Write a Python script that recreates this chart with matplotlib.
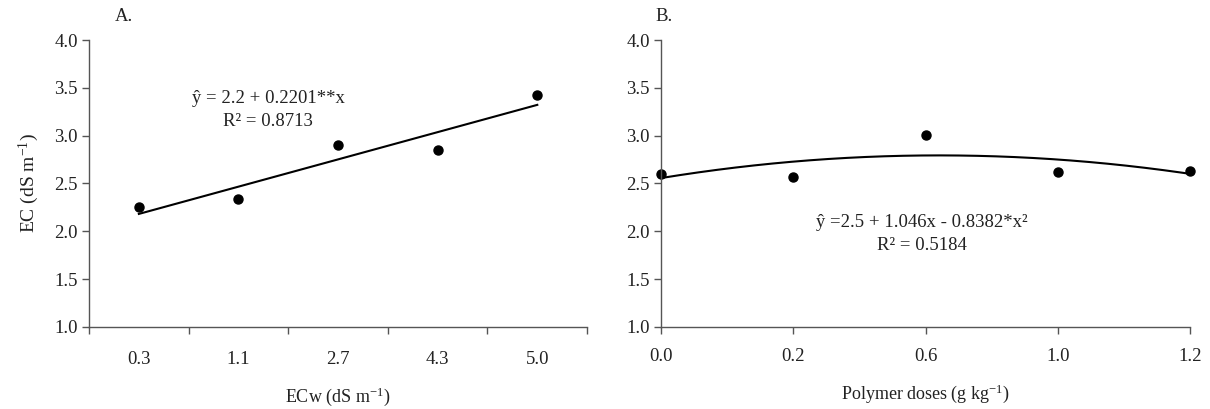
import numpy as np
import matplotlib
matplotlib.use("Agg")
import matplotlib.pyplot as plt

plt.rcParams["font.family"] = ["Liberation Serif", "DejaVu Serif"]
plt.rcParams["mathtext.fontset"] = "custom"
plt.rcParams["mathtext.rm"] = "Liberation Serif"
plt.rcParams["mathtext.it"] = "Liberation Serif:italic"

# ── Data ─────────────────────────────────────────────────────────────────────
ecw_labels = ["0.3", "1.1", "2.7", "4.3", "5.0"]
ec_a = [2.25, 2.34, 2.90, 2.85, 3.42]

dose_labels = ["0.0", "0.2", "0.6", "1.0", "1.2"]
ec_b = [2.60, 2.57, 3.01, 2.62, 2.63]

eq_a = ["ŷ = 2.2 + 0.2201**x", "R² = 0.8713"]
eq_b = ["ŷ =2.5 + 1.046x - 0.8382*x²", "R² = 0.5184"]

FS = 13.5
AX_COLOR = "#555555"
TXT_COLOR = "#222222"

fig = plt.figure(figsize=(12.1, 4.09), dpi=100)
ax_a = fig.add_axes([0.0736, 0.2005, 0.4116, 0.7017])
ax_b = fig.add_axes([0.5463, 0.2005, 0.4372, 0.7017])


def style(ax):
    for s in ("top", "right"):
        ax.spines[s].set_visible(False)
    for s in ("left", "bottom"):
        ax.spines[s].set_color(AX_COLOR)
        ax.spines[s].set_linewidth(1.0)
    ax.set_ylim(1.0, 4.0)
    ax.set_yticks(np.arange(1.0, 4.01, 0.5))
    ax.set_yticklabels([f"{v:.1f}" for v in np.arange(1.0, 4.01, 0.5)])
    ax.tick_params(axis="both", which="both", direction="out", color=AX_COLOR,
                   labelsize=FS, labelcolor=TXT_COLOR, width=1.0)
    ax.tick_params(axis="y", length=5, pad=3)


# ── Panel A: linear trend over categories ────────────────────────────────────
xa = np.arange(len(ec_a))
ca = np.polyfit(xa, ec_a, 1)
ax_a.plot(xa, np.polyval(ca, xa), color="black", lw=1.5)
ax_a.plot(xa, ec_a, "o", color="black", ms=6.5, clip_on=False)
ax_a.set_xlim(-0.5, len(ec_a) - 0.5)
style(ax_a)
ax_a.set_xticks(np.arange(-0.5, len(ec_a), 1.0))
ax_a.set_xticklabels([])
ax_a.tick_params(axis="x", which="major", length=5)
ax_a.set_xticks(xa, minor=True)
ax_a.set_xticklabels(ecw_labels, minor=True)
ax_a.tick_params(axis="x", which="minor", length=0, pad=17)
ax_a.set_xlabel("ECw (dS m$^{-1}$)", fontsize=13, labelpad=13, color=TXT_COLOR)
ax_a.set_ylabel("EC (dS m$^{-1}$)", fontsize=14, labelpad=10, color=TXT_COLOR)
ax_a.text(1.3, 3.39, eq_a[0], fontsize=FS, ha="center", va="center", color=TXT_COLOR)
ax_a.text(1.3, 3.15, eq_a[1], fontsize=FS, ha="center", va="center", color=TXT_COLOR)
ax_a.text(-0.15, 4.25, "A.", fontsize=FS, ha="center", va="center", color=TXT_COLOR)

# ── Panel B: quadratic trend over categories ─────────────────────────────────
xb = np.arange(len(ec_b))
cb = np.polyfit(xb, ec_b, 2)
xs = np.linspace(0, len(ec_b) - 1, 200)
ax_b.plot(xs, np.polyval(cb, xs), color="black", lw=1.5, clip_on=False)
ax_b.plot(xb, ec_b, "o", color="black", ms=6.5, clip_on=False)
ax_b.set_xlim(0, len(ec_b) - 1)
style(ax_b)
ax_b.set_xticks(xb)
ax_b.set_xticklabels(dose_labels)
ax_b.tick_params(axis="x", length=5, pad=10)
ax_b.set_xlabel("Polymer doses (g kg$^{-1}$)", fontsize=13, labelpad=13, color=TXT_COLOR)
ax_b.text(1.97, 2.09, eq_b[0], fontsize=FS, ha="center", va="center", color=TXT_COLOR)
ax_b.text(1.97, 1.85, eq_b[1], fontsize=FS, ha="center", va="center", color=TXT_COLOR)
ax_b.text(0.02, 4.25, "B.", fontsize=FS, ha="center", va="center", color=TXT_COLOR)

fig.savefig("out.png", dpi=100)
